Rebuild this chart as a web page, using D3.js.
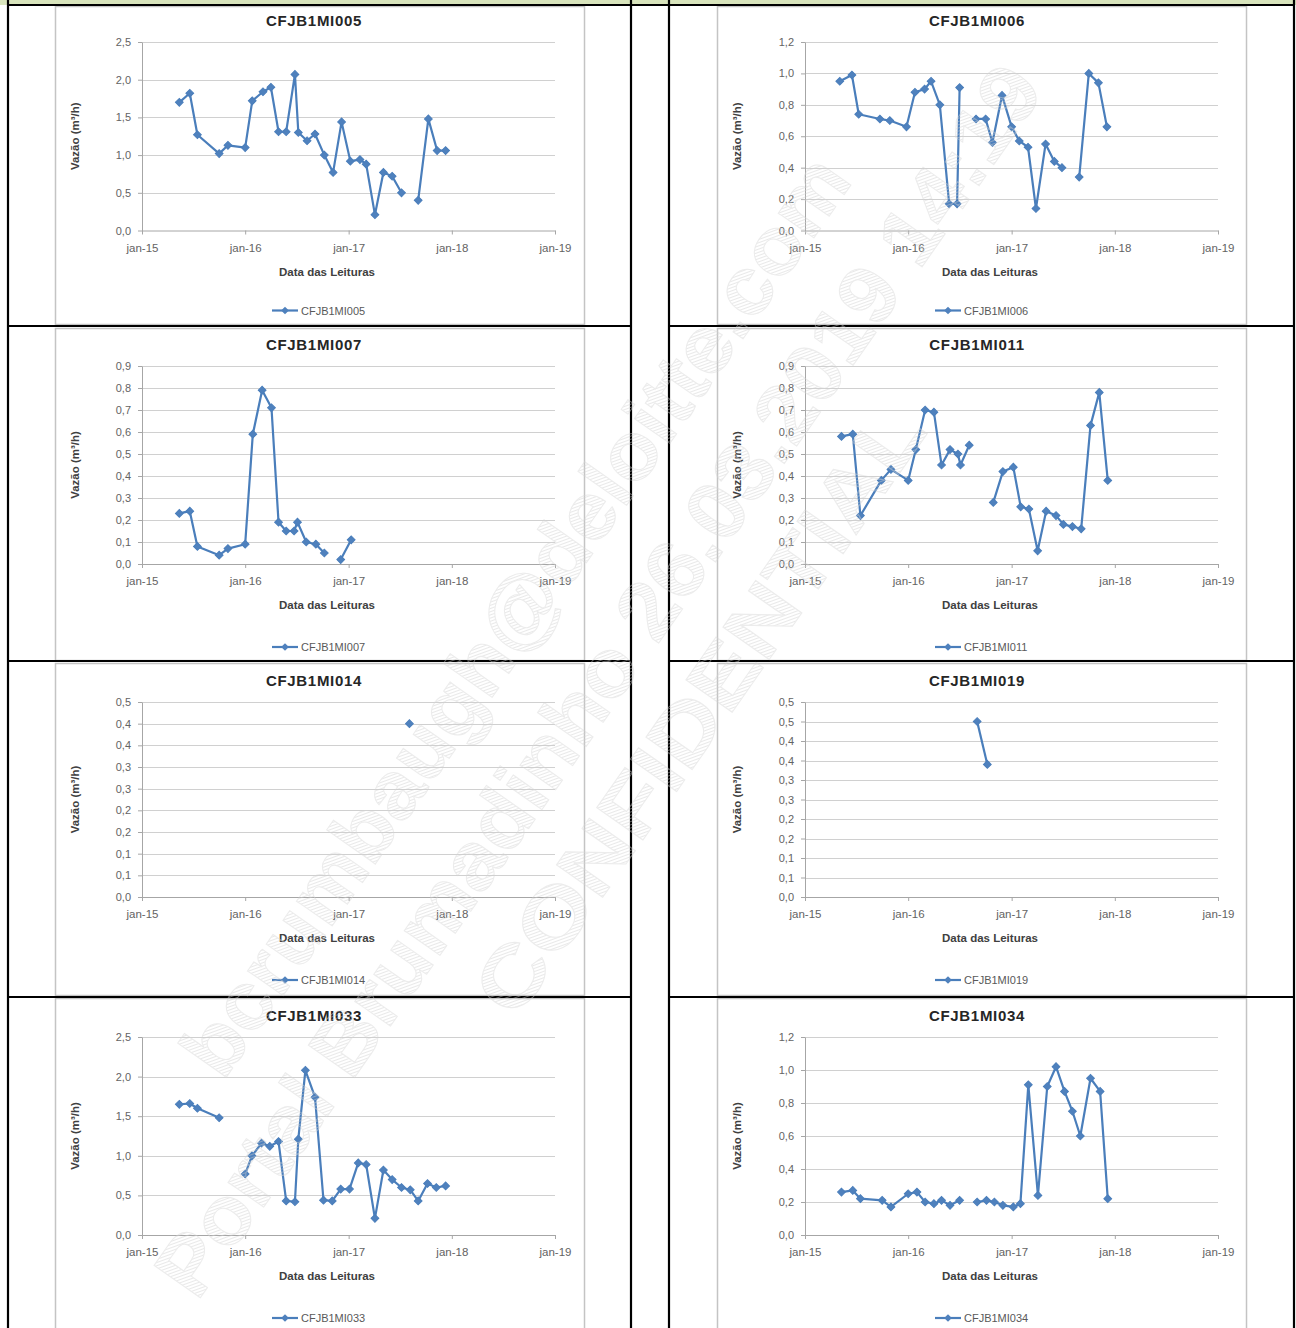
<!DOCTYPE html>
<meta charset="utf-8">

<!-- Load d3.js -->
<script src="https://d3js.org/d3.v7.min.js"></script>

<style>
  body { margin: 0; background: #fff; }
  text { font-family: "Liberation Sans", Arial, sans-serif; }
</style>

<!-- Sheet with the eight charts -->
<svg id="sheet" width="1296" height="1328"></svg>

<script>

// ---- data ----
var names = ["CFJB1MI005", "CFJB1MI006", "CFJB1MI007", "CFJB1MI011",
             "CFJB1MI014", "CFJB1MI019", "CFJB1MI033", "CFJB1MI034"];

var xTickDates = ["2015-01-01", "2016-01-01", "2017-01-01", "2018-01-01", "2019-01-01"];
var xTickLabels = ["jan-15", "jan-16", "jan-17", "jan-18", "jan-19"];

var yLabels25 = ["0,0", "0,5", "1,0", "1,5", "2,0", "2,5"];
var yLabels12 = ["0,0", "0,2", "0,4", "0,6", "0,8", "1,0", "1,2"];
var yLabels09 = ["0,0", "0,1", "0,2", "0,3", "0,4", "0,5", "0,6", "0,7", "0,8", "0,9"];
var yLabels045 = ["0,0", "0,1", "0,1", "0,2", "0,2", "0,3", "0,3", "0,4", "0,4", "0,5"];
var yLabels05 = ["0,0", "0,1", "0,1", "0,2", "0,2", "0,3", "0,3", "0,4", "0,4", "0,5", "0,5"];

// null = no reading (gap in the line)
var dates005 = ["2015-05-13","2015-06-19","2015-07-16","2015-10-01","2015-11-01","2016-01-01",
  "2016-01-26","2016-03-04","2016-04-01","2016-04-28","2016-05-25","2016-06-25","2016-07-07",
  "2016-08-07","2016-09-04","2016-10-07","2016-11-07","2016-12-07","2017-01-07","2017-02-10",
  "2017-03-04","2017-04-04","2017-05-04","2017-06-04","2017-07-07","2017-08-01","2017-09-04",
  "2017-10-10","2017-11-10","2017-12-10"];
var values005 = [1.70, 1.82, 1.27, 1.02, 1.13, 1.10, 1.72, 1.84, 1.90, 1.31, 1.31, 2.07, 1.30,
  1.19, 1.28, 1.00, 0.77, 1.44, 0.92, 0.94, 0.88, 0.21, 0.77, 0.72, 0.50, null, 0.40,
  1.48, 1.06, 1.06];

var dates006 = ["2015-05-04","2015-06-16","2015-07-10","2015-09-23","2015-10-28","2015-12-26",
  "2016-01-25","2016-02-28","2016-03-22","2016-04-22","2016-05-25","2016-06-22","2016-07-01",
  "2016-07-20","2016-08-28","2016-10-01","2016-10-25","2016-11-28","2017-01-01","2017-01-28",
  "2017-02-28","2017-03-28","2017-05-01","2017-06-01","2017-06-28","2017-07-20","2017-08-28",
  "2017-10-01","2017-11-04","2017-12-04"];
var values006 = [0.95, 0.99, 0.74, 0.71, 0.70, 0.66, 0.88, 0.90, 0.95, 0.80, 0.17, 0.17, 0.91,
  null, 0.71, 0.71, 0.56, 0.86, 0.66, 0.57, 0.53, 0.14, 0.55, 0.44, 0.40, null, 0.34,
  1.00, 0.94, 0.66];

var dates007 = ["2015-05-13","2015-06-19","2015-07-16","2015-10-01","2015-11-01","2016-01-01",
  "2016-01-28","2016-03-01","2016-04-03","2016-04-28","2016-05-25","2016-06-22","2016-07-04",
  "2016-08-04","2016-09-07","2016-10-07","2016-11-01","2016-12-04","2017-01-10"];
var values007 = [0.23, 0.24, 0.08, 0.04, 0.07, 0.09, 0.59, 0.79, 0.71, 0.19, 0.15, 0.15, 0.19,
  0.10, 0.09, 0.05, null, 0.02, 0.11];

var dates011 = ["2015-05-10","2015-06-19","2015-07-16","2015-09-28","2015-11-01","2016-01-01",
  "2016-01-28","2016-03-01","2016-04-01","2016-04-28","2016-05-28","2016-06-25","2016-07-04",
  "2016-08-04","2016-09-15","2016-10-28","2016-12-01","2017-01-07","2017-02-02","2017-03-03",
  "2017-04-03","2017-05-03","2017-06-07","2017-07-03","2017-08-04","2017-09-04","2017-10-07",
  "2017-11-07","2017-12-07"];
var values011 = [0.58, 0.59, 0.22, 0.38, 0.43, 0.38, 0.52, 0.70, 0.69, 0.45, 0.52, 0.50, 0.45,
  0.54, null, 0.28, 0.42, 0.44, 0.26, 0.25, 0.06, 0.24, 0.22, 0.18, 0.17, 0.16, 0.63,
  0.78, 0.38];

var dates014 = ["2017-08-04"];
var values014 = [0.40];

var dates019 = ["2016-09-01", "2016-10-07"];
var values019 = [0.45, 0.34];

var dates033 = ["2015-05-13","2015-06-19","2015-07-16","2015-10-01","2015-11-15","2016-01-01",
  "2016-01-25","2016-02-28","2016-03-28","2016-04-28","2016-05-25","2016-06-25","2016-07-07",
  "2016-08-01","2016-09-04","2016-10-04","2016-11-04","2016-12-04","2017-01-04","2017-02-04",
  "2017-03-04","2017-04-04","2017-05-04","2017-06-04","2017-07-07","2017-08-07","2017-09-04",
  "2017-10-07","2017-11-07","2017-12-10"];
var values033 = [1.65, 1.66, 1.60, 1.48, null, 0.77, 1.00, 1.16, 1.12, 1.18, 0.43, 0.42, 1.21,
  2.08, 1.74, 0.44, 0.43, 0.58, 0.58, 0.91, 0.89, 0.21, 0.82, 0.70, 0.60, 0.57, 0.43,
  0.65, 0.60, 0.62];

var dates034 = ["2015-05-10","2015-06-19","2015-07-16","2015-10-01","2015-11-01","2016-01-01",
  "2016-02-01","2016-03-01","2016-04-01","2016-04-28","2016-05-28","2016-07-01","2016-07-30",
  "2016-09-01","2016-10-04","2016-11-01","2016-12-01","2017-01-07","2017-02-01","2017-03-01",
  "2017-04-04","2017-05-07","2017-06-07","2017-07-07","2017-08-04","2017-09-01","2017-10-07",
  "2017-11-10","2017-12-07"];
var values034 = [0.26, 0.27, 0.22, 0.21, 0.17, 0.25, 0.26, 0.20, 0.19, 0.21, 0.18, 0.21, null,
  0.20, 0.21, 0.20, 0.18, 0.17, 0.19, 0.91, 0.24, 0.90, 1.02, 0.87, 0.75, 0.60, 0.95,
  0.87, 0.22];

var watermarkLines = ["bcrumbaugh@deloitte.com", "Portal Brumadinho 26.03.2019 14:19", "CONFIDENTIAL"];

// ---- layout ----
var svg = d3.select("#sheet");
var parseDate = d3.timeParse("%Y-%m-%d");

var plotLeft = [142, 805];
var plotWidth = 413;
var plotTop = [42, 366, 702, 1037];
var plotBottom = [230.5, 564, 897, 1235];
var frameX = [55, 717];
var frameY = [6, 328, 663, 998];
var frameH = [318, 332, 332, 345];
var frameW = 529;

var blue = "#4a7ebb";

var charts = [
  { name: names[0], dates: dates005, values: values005, yMax: 2.5, yLabels: yLabels25, col: 0, row: 0 },
  { name: names[1], dates: dates006, values: values006, yMax: 1.2, yLabels: yLabels12, col: 1, row: 0 },
  { name: names[2], dates: dates007, values: values007, yMax: 0.9, yLabels: yLabels09, col: 0, row: 1 },
  { name: names[3], dates: dates011, values: values011, yMax: 0.9, yLabels: yLabels09, col: 1, row: 1 },
  { name: names[4], dates: dates014, values: values014, yMax: 0.45, yLabels: yLabels045, col: 0, row: 2 },
  { name: names[5], dates: dates019, values: values019, yMax: 0.5, yLabels: yLabels05, col: 1, row: 2 },
  { name: names[6], dates: dates033, values: values033, yMax: 2.5, yLabels: yLabels25, col: 0, row: 3 },
  { name: names[7], dates: dates034, values: values034, yMax: 1.2, yLabels: yLabels12, col: 1, row: 3 }
];

// table background: green strip on top
svg.append("rect").attr("x", 0).attr("y", 0).attr("width", 1296).attr("height", 5)
  .attr("fill", "#d8e4bc");

// ---- charts ----
charts.forEach(function (c) {
  var g = svg.append("g");
  var x0 = plotLeft[c.col], yTop = plotTop[c.row], yBot = plotBottom[c.row];

  // chart frame
  g.append("rect")
    .attr("x", frameX[c.col] + 0.5).attr("y", frameY[c.row] + 0.5)
    .attr("width", frameW).attr("height", frameH[c.row])
    .attr("fill", "#fff").attr("stroke", "#c4c4c4").attr("stroke-width", 1.5);

  var x = d3.scaleTime()
    .domain([parseDate(xTickDates[0]), parseDate(xTickDates[xTickDates.length - 1])])
    .range([x0, x0 + plotWidth]);
  var y = d3.scaleLinear().domain([0, c.yMax]).range([yBot, yTop]);

  var n = c.yLabels.length;
  var yTickValues = c.yLabels.map(function (l, i) { return i * c.yMax / (n - 1); });

  // horizontal gridlines
  g.append("g").selectAll("line")
    .data(yTickValues.slice(1))
    .join("line")
      .attr("x1", x0).attr("x2", x0 + plotWidth)
      .attr("y1", function (d) { return Math.round(y(d)) + 0.5; })
      .attr("y2", function (d) { return Math.round(y(d)) + 0.5; })
      .attr("stroke", "#d0d0d0").attr("stroke-width", 1);

  // y axis
  var yAxis = d3.axisLeft(y)
    .tickValues(yTickValues)
    .tickFormat(function (d, i) { return c.yLabels[i]; })
    .tickSize(4).tickSizeOuter(0).tickPadding(7);
  var ya = g.append("g").attr("transform", "translate(" + x0 + ",0)").call(yAxis);
  ya.select(".domain").attr("stroke", "#a6a6a6");
  ya.selectAll(".tick line").attr("stroke", "#a6a6a6");
  ya.selectAll("text").attr("fill", "#636363").style("font-size", "11px")
    .style("font-family", "'Liberation Sans', Arial, sans-serif");

  // x axis
  var xAxis = d3.axisBottom(x)
    .tickValues(xTickDates.map(parseDate))
    .tickFormat(function (d, i) { return xTickLabels[i]; })
    .tickSize(4).tickSizeOuter(0).tickPadding(9);
  var xa = g.append("g").attr("transform", "translate(0," + yBot + ")").call(xAxis);
  xa.select(".domain").attr("stroke", "#a6a6a6");
  xa.selectAll(".tick line").attr("stroke", "#a6a6a6");
  xa.selectAll("text").attr("fill", "#636363").style("font-size", "11.5px")
    .style("font-family", "'Liberation Sans', Arial, sans-serif");

  // title
  g.append("text")
    .attr("x", x0 + 172).attr("y", yTop - 22)
    .attr("text-anchor", "middle").attr("dominant-baseline", "central")
    .attr("font-size", 15).attr("font-weight", "bold").attr("letter-spacing", 0.7)
    .attr("fill", "#262626")
    .text(c.name);

  // axis titles
  g.append("text")
    .attr("x", x0 + 185).attr("y", yBot + 41)
    .attr("text-anchor", "middle").attr("dominant-baseline", "central")
    .attr("font-size", 11.5).attr("font-weight", "bold").attr("fill", "#404040")
    .text("Data das Leituras");

  g.append("text")
    .attr("transform", "translate(" + (frameX[c.col] + 20) + "," + ((yTop + yBot) / 2) + ") rotate(-90)")
    .attr("text-anchor", "middle").attr("dominant-baseline", "central")
    .attr("font-size", 11.5).attr("font-weight", "bold").attr("fill", "#404040")
    .text("Vazão (m³/h)");

  // series
  var pts = c.dates.map(function (d, i) { return { date: parseDate(d), v: c.values[i] }; });
  var line = d3.line()
    .defined(function (d) { return d.v != null; })
    .x(function (d) { return x(d.date); })
    .y(function (d) { return y(d.v); });

  g.append("path").datum(pts)
    .attr("d", line)
    .attr("fill", "none").attr("stroke", blue).attr("stroke-width", 2.2)
    .attr("stroke-linejoin", "round");

  var marker = d3.symbol(d3.symbolSquare, 30);
  g.append("g").selectAll("path")
    .data(pts.filter(function (d) { return d.v != null; }))
    .join("path")
      .attr("d", marker)
      .attr("transform", function (d) { return "translate(" + x(d.date) + "," + y(d.v) + ") rotate(45)"; })
      .attr("fill", "#4f81bd").attr("stroke", blue).attr("stroke-width", 1);

  // legend
  var lx = x0 + 130, ly = yBot + (c.row === 0 ? 80 : 83);
  g.append("line").attr("x1", lx).attr("x2", lx + 26).attr("y1", ly).attr("y2", ly)
    .attr("stroke", blue).attr("stroke-width", 2.2);
  g.append("path").attr("d", marker)
    .attr("transform", "translate(" + (lx + 13) + "," + ly + ") rotate(45)")
    .attr("fill", "#4f81bd");
  g.append("text")
    .attr("x", lx + 29).attr("y", ly).attr("dominant-baseline", "central")
    .attr("font-size", 11).attr("fill", "#595959")
    .text(c.name);
});

// ---- table rules ----
var rules = svg.append("g").attr("stroke", "#000").attr("stroke-width", 2.2);
[8, 631, 669, 1294].forEach(function (vx) {
  rules.append("line").attr("x1", vx).attr("x2", vx).attr("y1", 0).attr("y2", 1328);
});
rules.append("line").attr("x1", 8).attr("x2", 1294).attr("y1", 5).attr("y2", 5);
[326, 661, 997].forEach(function (hy) {
  rules.append("line").attr("x1", 8).attr("x2", 631).attr("y1", hy).attr("y2", hy);
  rules.append("line").attr("x1", 669).attr("x2", 1294).attr("y1", hy).attr("y2", hy);
});

// ---- faint watermark ----
var defs = svg.append("defs");
var hatch = defs.append("pattern").attr("id", "hatch")
  .attr("patternUnits", "userSpaceOnUse").attr("width", 3).attr("height", 3)
  .attr("patternTransform", "rotate(35)");
hatch.append("line").attr("x1", 0).attr("x2", 3).attr("y1", 0.5).attr("y2", 0.5)
  .attr("stroke", "#cfcfcf").attr("stroke-width", 1);

var wmPos = [[515, 615, 1100], [598, 680, 1480], [699, 710, 720]];
var wm = svg.append("g").attr("opacity", 0.45);
watermarkLines.forEach(function (t, i) {
  wm.append("text")
    .attr("transform", "translate(" + wmPos[i][0] + "," + wmPos[i][1] + ") rotate(-55)")
    .attr("text-anchor", "middle").attr("dominant-baseline", "central")
    .attr("font-size", 82).attr("font-weight", "bold")
    .attr("textLength", wmPos[i][2]).attr("lengthAdjust", "spacingAndGlyphs")
    .attr("fill", "url(#hatch)").attr("stroke", "#d6d6d6").attr("stroke-width", 1)
    .text(t);
});

</script>
